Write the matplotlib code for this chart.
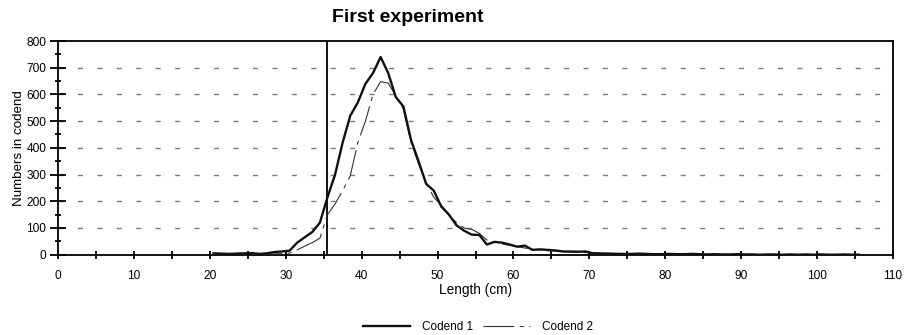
import numpy as np
import matplotlib
matplotlib.use("Agg")
import matplotlib.pyplot as plt

plt.rcParams['font.family'] = ['Liberation Sans', 'DejaVu Sans']
plt.rcParams['lines.scale_dashes'] = False

title = "First experiment"
x_label = "Length (cm)"
y_label = "Numbers in codend"
series_names = ["Codend 1", "Codend 2"]
mls_length = 35.4

length_c1 = np.arange(20.5, 106.0, 1.0)
codend1 = [5, 4, 3, 4, 5, 6, 3, 5, 10, 12,
           15, 45, 65, 85, 120, 215, 300, 420, 520, 570,
           640, 680, 740, 680, 590, 555, 430, 350, 265, 240,
           180, 150, 110, 90, 75, 74, 38, 48, 45, 38,
           30, 34, 18, 20, 18, 16, 12, 12, 11, 12,
           5, 4, 4, 3, 3, 3, 4, 3, 2, 2,
           3, 2, 2, 3, 2, 1, 2, 1, 1, 2,
           1, 1, 0, 1, 1, 0, 1, 0, 1, 0,
           1, 0, 0, 1, 0, 0]

length_c2 = np.arange(25.5, 101.0, 1.0)
codend2 = [1, 1, 2, 3, 4, 6, 18, 32, 45, 62,
           150, 190, 240, 295, 420, 500, 600, 648, 642, 595,
           545, 420, 340, 270, 215, 185, 150, 120, 100, 95,
           80, 55, 48, 40, 35, 30, 25, 22, 18, 15,
           14, 12, 10, 9, 8, 8, 6, 5, 5, 4,
           4, 3, 3, 3, 2, 2, 2, 2, 1, 1,
           1, 1, 1, 1, 1, 0, 1, 0, 0, 1,
           0, 0, 0, 0, 0, 0]

x_ticks = np.arange(0, 111, 10)
y_ticks = np.arange(0, 801, 100)

fig = plt.figure(figsize=(9.11, 3.35), dpi=100)
ax = fig.add_axes([58/911, 1-254.7/335, (893-58)/911, (254.7-41)/335])

# grid
for yv in y_ticks[1:-1]:
    ax.axhline(yv, color='#7a7a7a', lw=1.0, dashes=(3.6, 10.4), zorder=1)

ax.axvline(mls_length, color='black', lw=1.3, zorder=3)

ax.plot(length_c2, codend2, color='#333333', lw=0.8, dashes=(22, 4, 3, 4),
        label=series_names[1], zorder=4)
ax.plot(length_c1, codend1, color='#111111', lw=1.7, label=series_names[0], zorder=5)

ax.set_xlim(0, 110)
ax.set_ylim(0, 800)
ax.set_xticks(x_ticks)
ax.set_xticks(np.arange(5, 110, 10), minor=True)
ax.set_yticks(y_ticks)
ax.set_yticks(np.arange(50, 800, 100), minor=True)

ax.tick_params(axis='x', which='both', direction='inout', length=6, width=1.3,
               labelsize=8.6, pad=8)
ax.tick_params(axis='y', which='major', direction='inout', length=11, width=1.3,
               labelsize=8.6, pad=3)
ax.tick_params(axis='y', which='minor', direction='inout', length=5, width=1.3)

for s in ax.spines.values():
    s.set_linewidth(1.3)

ax.set_xlabel(x_label, fontsize=9.8, labelpad=1)
ax.set_ylabel(y_label, fontsize=9.6, labelpad=1)

fig.text(408/911, 1-17/335, title, ha='center', va='center', fontsize=14,
         fontweight='bold')

h1, l1 = ax.get_legend_handles_labels()
order = [1, 0]
fig.legend([h1[i] for i in order], [l1[i] for i in order], loc='center',
           bbox_to_anchor=(478/911, 1-327/335), ncol=2, frameon=False,
           fontsize=8.5, handlelength=4.0, columnspacing=0.8, handletextpad=1.0)

fig.savefig("out.png", dpi=100)
